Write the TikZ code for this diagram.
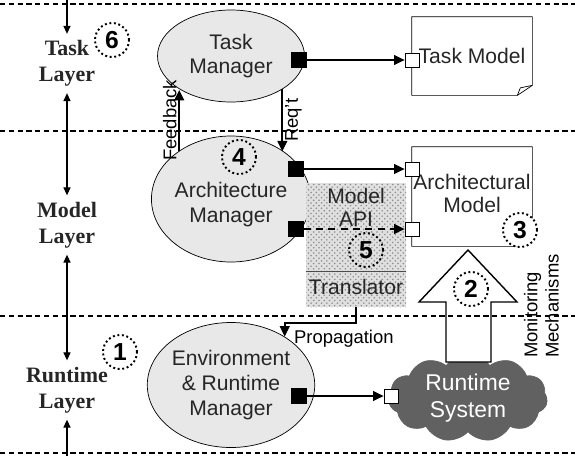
\documentclass[tikz,border=0pt]{standalone}
\usepackage{fontspec}
\setmainfont{Liberation Serif}
\setsansfont{Liberation Sans}
\usetikzlibrary{shapes.geometric,shapes.symbols,patterns,arrows.meta,calc}

\begin{document}
\begin{tikzpicture}[
		mgr/.style={draw, ellipse, fill=black!9, align=center, text=black!85, font=\sffamily\fontsize{12}{14}\selectfont, inner sep=0pt},
		layer/.style={align=center, font=\rmfamily\bfseries\fontsize{12.5}{15}\selectfont, text=black!85, inner sep=3.5pt},
		num/.style={circle, draw, line width=1.1pt, dash pattern=on 1.1pt off 1.5pt, minimum size=0.68cm, inner sep=0pt, font=\sffamily\bfseries\fontsize{14}{16}\selectfont},
		outport/.style={draw, fill=black, minimum size=0.3cm, inner sep=0pt},
		inport/.style={draw, fill=white, minimum size=0.28cm, inner sep=0pt},
		flow/.style={-{Triangle[length=6pt,width=5.5pt]}, line width=1.1pt},
		axis/.style={line width=0.6pt, >={Triangle[length=4.5pt,width=4pt]}},
		sep/.style={dash pattern=on 3pt off 2pt, line width=0.6pt},
		lbl/.style={font=\sffamily\fontsize{10.5}{12}\selectfont, inner sep=1pt},
		txt/.style={align=center, text=black!85, font=\sffamily\fontsize{12}{13}\selectfont, inner sep=0pt}
	]

	\useasboundingbox (0,0) rectangle (11.5,-9.12);

	\node[layer] (tasklayer) at (1.34,-1.27) {Task\\Layer};
	\node[layer] (modellayer) at (1.34,-4.5) {Model\\Layer};
	\node[layer] (runtimelayer) at (1.34,-7.8) {Runtime\\Layer};
	\coordinate (axistop) at (1.34,0);
	\coordinate (axisbottom) at (1.34,-9.12);

	\draw[axis, ->] (axistop) -- (tasklayer);
	\draw[axis, <->] (tasklayer) -- (modellayer);
	\draw[axis, <->] (modellayer) -- (runtimelayer);
	\draw[axis, ->] (axisbottom) -- (runtimelayer);

	\node[mgr, minimum width=2.94cm, minimum height=1.84cm] (taskmgr) at (4.62,-1.12) {Task\\Manager};
	\node[mgr, minimum width=2.92cm, minimum height=2.52cm] (archmgr) at (4.62,-3.98) {\\[1pt]Architecture\\Manager};
	\node[mgr, minimum width=2.96cm, minimum height=2.5cm] (envmgr) at (4.62,-7.7) {Environment\\\& Runtime\\Manager};

	\node[txt, minimum width=2.4cm, minimum height=1.56cm] (taskmodel) at (9.44,-1.12) {Task Model};
	\draw (taskmodel.north west) -- (taskmodel.north east) -- ($(taskmodel.south east)+(0,0.2)$) -- ($(taskmodel.south east)+(-0.3,0)$) -- (taskmodel.south west) -- cycle;
	\draw ($(taskmodel.south east)+(0,0.2)$) -- ($(taskmodel.south east)+(-0.24,0.15)$) -- ($(taskmodel.south east)+(-0.3,0)$);

	\node[txt, minimum width=2.4cm, minimum height=1.98cm, text depth=0.12cm] (archmodel) at (9.44,-3.93) {Architectural\\Model};
	\draw (archmodel.north west) -- (archmodel.north east) -- ($(archmodel.south east)+(0,0.2)$) -- ($(archmodel.south east)+(-0.3,0)$) -- (archmodel.south west) -- cycle;

	\node[minimum width=2cm, minimum height=2.48cm, inner sep=0pt, preaction={fill=black!12}, pattern=crosshatch dots, pattern color=black!45] (api) at (7.12,-4.9) {};
	\node[txt] (apitext) at (7.12,-4.15) {Model\\API};
	\node[txt] (transtext) at (7.12,-5.74) {Translator};
	\draw[black!70] (api.west |- 0,-5.42) -- (api.east |- 0,-5.42);

	\node[cloud, cloud puffs=11, cloud puff arc=110, aspect=2.3, fill=black!62, draw=black!62, text=white, minimum width=3.14cm, minimum height=1.4cm, inner sep=0pt, align=center, font=\sffamily\fontsize{13}{15}\selectfont] (runtime) at (9.36,-7.96) {Runtime\\System};

	\draw[fill=white, line width=0.8pt] (8.92,-7.24) -- (8.92,-6.04) -- (8.38,-6.04) -- (9.36,-5.0) -- (10.34,-6.04) -- (9.82,-6.04) -- (9.82,-7.24) -- cycle;
	\node[lbl, rotate=90, align=left, anchor=north west] (monlbl) at (10.44,-7.2) {Monitoring\\Mechanisms};

	\node[outport] (tmout) at (5.98,-1.2) {};
	\node[inport] (tmin) at (8.24,-1.2) {};
	\node[outport] (amout) at (5.92,-3.38) {};
	\node[inport] (amin) at (8.24,-3.38) {};
	\node[outport] (apiout) at (5.92,-4.58) {};
	\node[inport] (apiin) at (8.24,-4.58) {};
	\node[outport] (envout) at (5.98,-7.92) {};
	\node[inport] (envin) at (7.82,-7.92) {};

	\draw[flow] (tmout) -- (tmin);
	\draw[flow] (amout) -- (amin);
	\draw[flow, dash pattern=on 4pt off 3pt] (apiout) -- (apiin);
	\draw[flow] (envout) -- (envin);

	\draw[flow] (archmgr.137) -- (archmgr.137 |- taskmgr.214) node[midway, lbl, rotate=90, anchor=south] (fblbl) {Feedback};
	\draw[flow] (taskmgr.327) -- (taskmgr.327 |- archmgr.42) node[midway, lbl, rotate=90, anchor=north] (reqlbl) {Req't};
	\draw[flow] (api.south) -- ++(0,-0.32) -| (envmgr.42);
	\node[lbl, anchor=west] (proplbl) at (5.84,-6.78) {Propagation};

	\node[num] (n6) at (2.24,-0.8) {6};
	\node[num] (n4) at (4.78,-3.14) {4};
	\node[num] (n5) at (7.32,-5.0) {5};
	\node[num, fill=white] (n3) at (10.4,-4.6) {3};
	\node[num] (n2) at (9.42,-5.78) {2};
	\node[num] (n1) at (2.4,-7.04) {1};

	\draw[sep] (0,-0.08) -- (11.5,-0.08);
	\draw[sep] (0,-2.62) -- (11.5,-2.62);
	\draw[sep] (0,-6.32) -- (11.5,-6.32);
	\draw[sep] (0,-9.06) -- (11.5,-9.06);

\end{tikzpicture}
\end{document}
